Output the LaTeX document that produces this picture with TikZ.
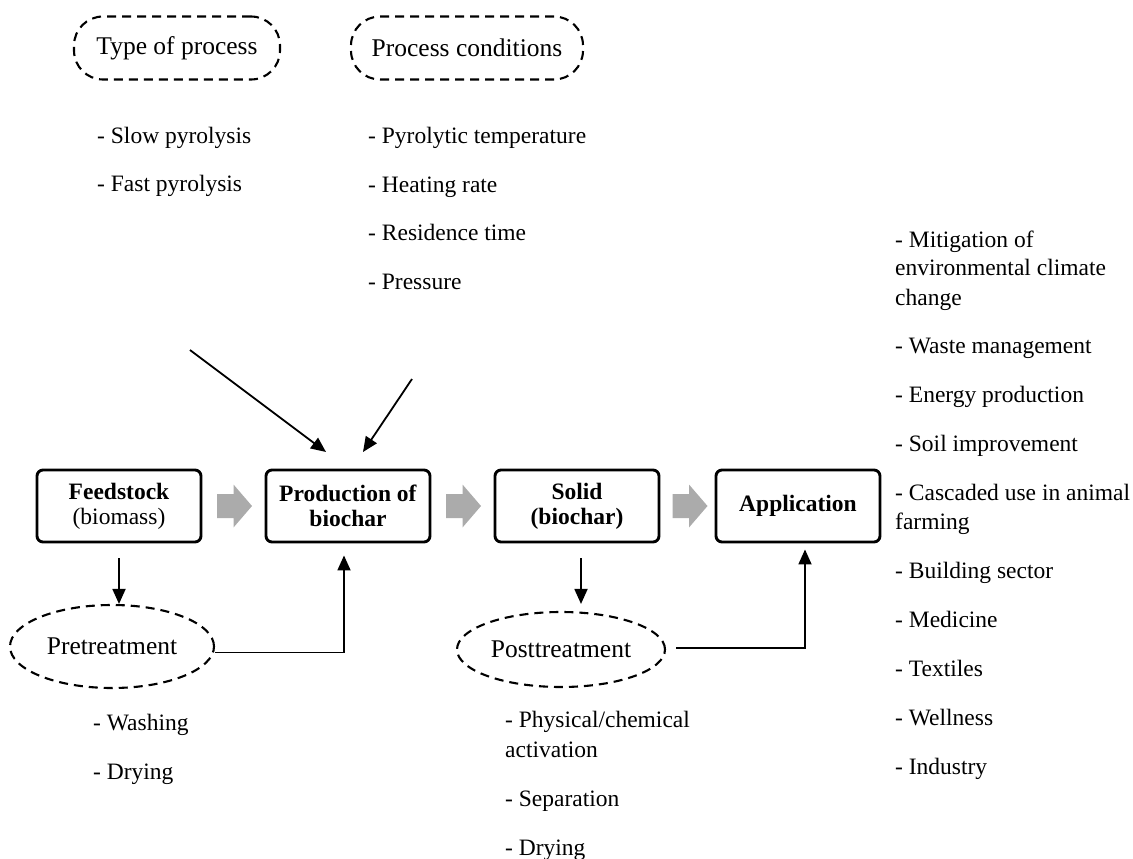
\documentclass[tikz,border=0pt]{standalone}
\usepackage{fontspec}
\setmainfont{Liberation Serif}
\usetikzlibrary{shapes.geometric,arrows.meta}
\begin{document}
\begin{tikzpicture}[x=1pt,y=-1pt,
 every node/.style={font=\fontsize{23.5}{25}\selectfont},
 box/.style={draw, line width=2.9pt, rounded corners=6pt, minimum width=164pt, minimum height=72pt, align=center, inner sep=0pt},
 oval/.style={draw, line width=2.1pt, dash pattern=on 9pt off 6pt, ellipse, inner sep=0pt, font=\fontsize{25.5}{27}\selectfont},
 pill/.style={draw, line width=2.1pt, dash pattern=on 9pt off 6pt, rounded corners=29pt, minimum height=63pt, inner sep=0pt, font=\fontsize{25.5}{27}\selectfont},
 item/.style={anchor=base west, inner sep=0pt},
 garrow/.pic={\fill[black!33] (-17.5,-12) -- (-1,-12) -- (-1,-21.5) -- (17.5,0) -- (-1,21.5) -- (-1,12) -- (-17.5,12) -- cycle;},
 link/.style={line width=1.8pt, -{Triangle[length=15pt,width=13pt]}}
]
\useasboundingbox (0,0) rectangle (1133,859);

% top labels
\node[pill, minimum width=206pt] (type) at (177,48) {Type of process};
\node[pill, minimum width=232pt] (cond) at (467,48) {Process conditions};

\node[item] (tp1) at (97,143) {- Slow pyrolysis};
\node[item] (tp2) at (97,191) {- Fast pyrolysis};

\node[item] (pc1) at (368,143) {- Pyrolytic temperature};
\node[item] (pc2) at (368,192) {- Heating rate};
\node[item] (pc3) at (368,240) {- Residence time};
\node[item] (pc4) at (368,289) {- Pressure};

% main boxes
\node[box] (feed) at (119,506) {\textbf{Feedstock}\\(biomass)};
\node[box] (prod) at (348,506) {\textbf{Production of}\\\textbf{biochar}};
\node[box] (solid) at (577,506) {\textbf{Solid}\\\textbf{(biochar)}};
\node[box] (app) at (798,506) {\textbf{Application}};

\pic at (234.5,506) {garrow};
\pic at (463.5,506) {garrow};
\pic at (690,506) {garrow};

% treatments
\node[oval, minimum width=204pt, minimum height=83pt] (pre) at (112,646.5) {Pretreatment};
\node[oval, minimum width=208pt, minimum height=75pt] (post) at (561,649.5) {Posttreatment};

% diagonal arrows
\coordinate (t1s) at (190,350);
\coordinate (t1e) at (326,452);
\coordinate (t2s) at (412,379);
\coordinate (t2e) at (363,452);
\draw[link] (t1s) -- (t1e);
\draw[link] (t2s) -- (t2e);

% connectors
\draw[link] ([yshift=-15pt]feed.south) -- (feed.south |- pre.north);
\draw[link] ([yshift=-6pt]pre.east) -| ([xshift=-4pt,yshift=-12pt]prod.south);
\draw[link] ([xshift=4pt,yshift=-15pt]solid.south) -- ([xshift=4pt,yshift=7pt]solid.south |- post.north);
\draw[link] ([xshift=10pt,yshift=1.5pt]post.east) -| ([xshift=7pt,yshift=-6pt]app.south);

% pretreatment list
\node[item] (pr1) at (93,730) {- Washing};
\node[item] (pr2) at (93,779) {- Drying};

% posttreatment list
\node[item] (po1) at (505,727) {- Physical/chemical};
\node[item] (po1b) at (505,757) {activation};
\node[item] (po2) at (505,806) {- Separation};
\node[item] (po3) at (505,855) {- Drying};

% application list
\node[item] (a1) at (895,247) {- Mitigation of};
\node[item] (a1b) at (895,275) {environmental climate};
\node[item] (a1c) at (895,305) {change};
\node[item] (a2) at (895,353) {- Waste management};
\node[item] (a3) at (895,402) {- Energy production};
\node[item] (a4) at (895,451) {- Soil improvement};
\node[item] (a5) at (895,500) {- Cascaded use in animal};
\node[item] (a5b) at (895,529) {farming};
\node[item] (a6) at (895,578) {- Building sector};
\node[item] (a7) at (895,627) {- Medicine};
\node[item] (a8) at (895,676) {- Textiles};
\node[item] (a9) at (895,725) {- Wellness};
\node[item] (a10) at (895,774) {- Industry};
\end{tikzpicture}
\end{document}
